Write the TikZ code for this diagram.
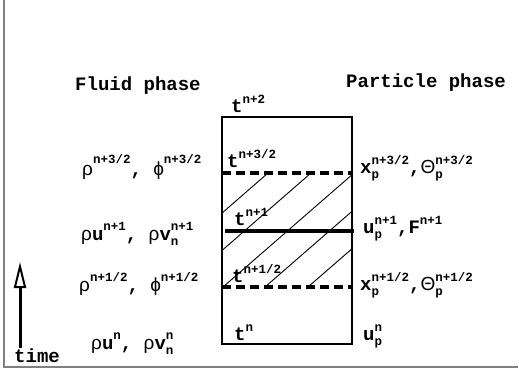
\documentclass[tikz,border=0pt]{standalone}
\usepackage{fontspec}
\setmonofont{Liberation Mono}
\newfontfamily\grkfont{Liberation Sans}
\usetikzlibrary{arrows.meta}
\newcommand\supf{\fontsize{12.5}{12.5}\selectfont}
\newcommand\G[1]{{\grkfont\mdseries #1}}
\newdimen\SUw
\newsavebox\SUa
\newsavebox\SUb
\newcommand\SU[4][9pt]{#2{\supf\sbox\SUa{#3}\sbox\SUb{#4}%
  \ifdim\wd\SUa>\wd\SUb \SUw=\wd\SUa \else \SUw=\wd\SUb \fi
  \rlap{\raisebox{#1}{\usebox\SUa}}\rlap{\raisebox{-5.5pt}{\usebox\SUb}}\hspace{\SUw}}}
\tikzset{
  tx/.style={font=\ttfamily\bfseries\fontsize{19}{19}\selectfont, inner sep=0pt, anchor=base west},
  frame/.style={draw=black!50, line width=2pt},
  box/.style={line width=1.4pt},
  dashline/.style={line width=3.2pt, dash pattern=on 9pt off 5pt},
  solidline/.style={line width=3.2pt},
  hatch/.style={line width=0.9pt}
}
\begin{document}
\begin{tikzpicture}[x=1pt,y=-1pt]
\useasboundingbox (0,0) rectangle (519,383);
% frame
\coordinate (ftop) at (4,0);
\coordinate (fcorner) at (4,367);
\coordinate (fright) at (518,367);
\draw[frame] (ftop) -- (fcorner) -- (fright);
% headers
\node[tx] (fluid) at (75,90) {Fluid phase};
\node[tx] (part) at (346,87) {Particle phase};
% box
\coordinate (bl) at (222,344);
\coordinate (tr) at (352,117);
% hatching
\begin{scope}
\clip (222,173) rectangle (352,287);
\foreach \k in {137,180,223,265,308}{
  \draw[hatch] (\k,287) -- ++(150,-130.5);
}
\end{scope}
\draw[box] (bl) rectangle (tr);
\coordinate (d1l) at (222,173); \coordinate (d1r) at (353,173);
\coordinate (sl) at (225,231); \coordinate (sr) at (354,231);
\coordinate (d2l) at (222,287); \coordinate (d2r) at (353,287);
\draw[dashline] (d1l) -- (d1r);
\draw[solidline] (sl) -- (sr);
\draw[dashline] (d2l) -- (d2r);
% t labels
\node[tx] (t1) at (231,112) {\SU{t}{n+2}{}};
\node[tx] (t2) at (227,167) {\SU{t}{n+3/2}{}};
\node[tx] (t3) at (234,225) {\SU{t}{n+1}{}};
\node[tx] (t4) at (232,282) {\SU{t}{n+1/2}{}};
\node[tx] (t5) at (234,340) {\SU{t}{n}{}};
% fluid labels
\node[tx] (f1) at (82,175) {\SU[12pt]{\G{ρ}}{n+3/2}{}, \SU[12pt]{\G{ϕ}}{n+3/2}{}};
\node[tx] (f2) at (81,240) {\G{ρ}\SU[10pt]{u}{n+1}{}, \G{ρ}\SU[10pt]{v}{n+1}{n}};
\node[tx] (f3) at (79,291) {\SU[10pt]{\G{ρ}}{n+1/2}{}, \SU[10pt]{\G{ϕ}}{n+1/2}{}};
\node[tx] (f4) at (91,349) {\G{ρ}\SU[10pt]{u}{n}{}, \G{ρ}\SU[10pt]{v}{n}{n}};
% particle labels
\node[tx] (p1) at (360,173) {\SU{x}{n+3/2}{p},\SU{\G{Θ}}{n+3/2}{p}};
\node[tx] (p2) at (363,233) {\SU{u}{n+1}{p},\SU{F}{n+1}{}};
\node[tx] (p3) at (360,290) {\SU{x}{n+1/2}{p},\SU{\G{Θ}}{n+1/2}{p}};
\node[tx] (p4) at (363,340) {\SU{u}{n}{p}};
% time arrow
\coordinate (ab) at (20,348);
\coordinate (at) at (20,262);
\draw[line width=3pt, -{Triangle[open, length=26pt, width=12pt, line width=2pt]}] (ab) -- (at);
\node[tx] (time) at (14,362) {time};
\end{tikzpicture}
\end{document}
